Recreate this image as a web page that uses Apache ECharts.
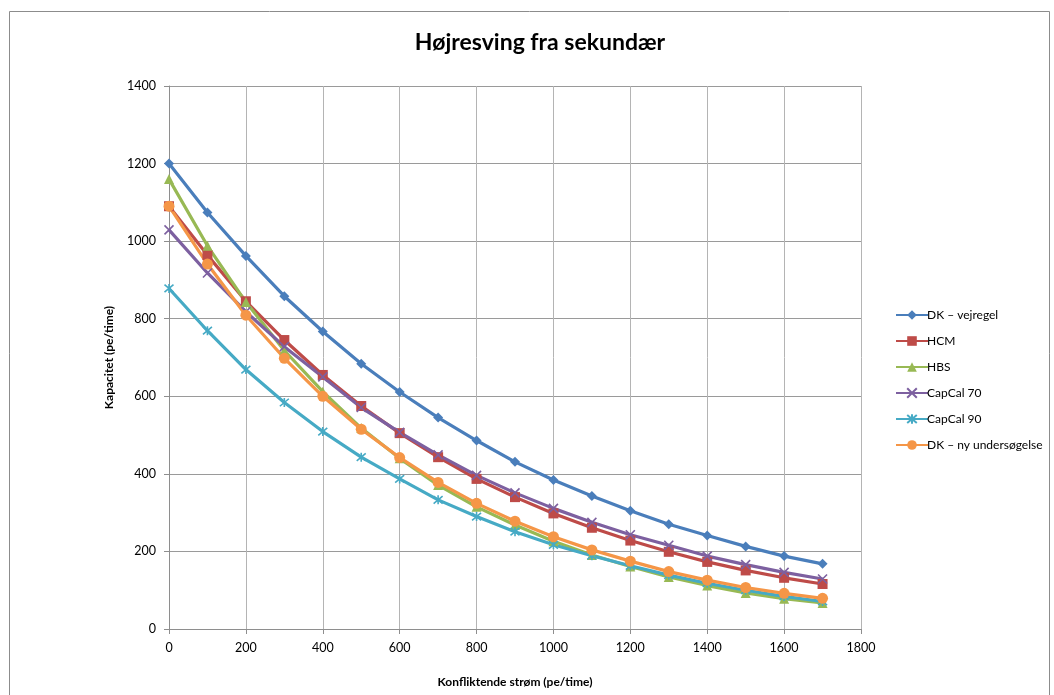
<!DOCTYPE html>
<html>
<head>
<meta charset="utf-8">
<script src="https://cdn.jsdelivr.net/npm/echarts@6/dist/echarts.min.js"></script>
<style>
  html, body { margin: 0; padding: 0; background: #fff; }
  #chart { width: 1054px; height: 695px; }
</style>
</head>
<body>
<div id="chart"></div>
<script>
// Conflicting flow (pe/time), x positions of the points
const flows = [0, 100, 200, 300, 400, 500, 600, 700, 800, 900, 1000, 1100, 1200, 1300, 1400, 1500, 1600, 1700];

// Capacity (pe/time) for each method
const dkVejregel = [1200, 1074, 962, 858, 767, 684, 611, 545, 486, 431, 384, 343, 305, 270, 241, 213, 188, 168];
const hcm        = [1090, 964, 845, 745, 655, 575, 505, 443, 387, 340, 298, 261, 228, 199, 173, 151, 132, 116];
const hbs        = [1160, 988, 843, 718, 612, 518, 440, 371, 315, 268, 226, 191, 161, 134, 112, 93, 78, 67];
const capCal70   = [1029, 918, 818, 728, 650, 571, 507, 449, 396, 351, 311, 275, 243, 216, 188, 166, 146, 129];
const capCal90   = [878, 769, 669, 584, 509, 443, 387, 333, 290, 251, 217, 189, 163, 139, 118, 100, 84, 71];
const dkNy       = [1090, 941, 809, 698, 600, 515, 442, 378, 324, 278, 238, 204, 175, 148, 126, 107, 92, 79];

const seriesNames = ['DK – vejregel', 'HCM', 'HBS', 'CapCal 70', 'CapCal 90', 'DK – ny undersøgelse'];
const xTicks = [0, 200, 400, 600, 800, 1000, 1200, 1400, 1600, 1800];
const yTicks = [0, 200, 400, 600, 800, 1000, 1200, 1400];

const FONT = 'Lato, "Open Sans", sans-serif';
const colors = ['#4A7EBB', '#BE4B48', '#98B954', '#7D60A0', '#46AAC5', '#F59647'];

const crossPath = 'path://M0,0 L10,10 M10,0 L0,10';
const starPath = 'path://M0,0 L10,10 M10,0 L0,10 M5,-1 L5,11';

function pairs(values) {
  return flows.map((f, i) => [f, values[i]]);
}

function makeSeries(name, values, color, symbol, size, stroked) {
  return {
    name: name,
    type: 'line',
    data: pairs(values),
    symbol: symbol,
    symbolSize: size,
    showAllSymbol: true,
    lineStyle: { color: color, width: 3.2 },
    itemStyle: stroked
      ? { color: color, borderColor: color, borderWidth: 1.6 }
      : { color: color },
    emphasis: { disabled: true },
    z: 2
  };
}

const chart = echarts.init(document.getElementById('chart'), null, { renderer: 'canvas' });

chart.setOption({
  animation: false,
  backgroundColor: '#ffffff',
  color: colors,
  title: {
    text: 'Højresving fra sekundær',
    left: 535,
    textAlign: 'center',
    top: 26,
    textStyle: { fontFamily: FONT, fontSize: 23, fontWeight: 'bold', color: '#000' }
  },
  graphic: [{
    type: 'rect',
    shape: { x: 9.5, y: 11.5, width: 1040, height: 700 },
    style: { fill: 'none', stroke: '#8c8c8c', lineWidth: 1 },
    silent: true
  }],
  grid: { left: 169, right: 193, top: 86, bottom: 66, containLabel: false },
  legend: {
    orient: 'vertical',
    left: 890,
    top: 304,
    itemWidth: 32,
    itemHeight: 12,
    itemGap: 14,
    textStyle: { fontFamily: FONT, fontSize: 12, color: '#000', padding: [0, 0, 0, -6] },
    data: seriesNames
  },
  xAxis: {
    type: 'value',
    min: 0,
    max: 1800,
    interval: 200,
    name: 'Konfliktende strøm (pe/time)',
    nameLocation: 'middle',
    nameGap: 47,
    nameTextStyle: { fontFamily: FONT, fontSize: 12, fontWeight: 'bold', color: '#000' },
    axisLine: { show: true, onZero: false, lineStyle: { color: '#8e8e8e', width: 1 } },
    axisTick: { show: true, inside: false, length: 5, lineStyle: { color: '#8e8e8e' } },
    axisLabel: {
      fontFamily: FONT, fontSize: 12.5, color: '#000', margin: 12,
      formatter: v => (xTicks.indexOf(v) >= 0 ? String(v) : '')
    },
    splitLine: { show: true, lineStyle: { color: '#b4b4b4', width: 1 } }
  },
  yAxis: {
    type: 'value',
    min: 0,
    max: 1400,
    interval: 200,
    name: 'Kapacitet (pe/time)',
    nameLocation: 'middle',
    nameGap: 54,
    nameRotate: 90,
    nameTextStyle: { fontFamily: FONT, fontSize: 12, fontWeight: 'bold', color: '#000' },
    axisLine: { show: true, lineStyle: { color: '#8e8e8e', width: 1 } },
    axisTick: { show: true, inside: false, length: 5, lineStyle: { color: '#8e8e8e' } },
    axisLabel: {
      fontFamily: FONT, fontSize: 12.5, color: '#000', margin: 13,
      formatter: v => (yTicks.indexOf(v) >= 0 ? String(v) : '')
    },
    splitLine: { show: true, lineStyle: { color: '#9a9a9a', width: 1 } }
  },
  series: [
    makeSeries(seriesNames[0], dkVejregel, colors[0], 'diamond', 10, false),
    makeSeries(seriesNames[1], hcm, colors[1], 'rect', 10, false),
    makeSeries(seriesNames[2], hbs, colors[2], 'triangle', 10, false),
    makeSeries(seriesNames[3], capCal70, colors[3], crossPath, 9, true),
    makeSeries(seriesNames[4], capCal90, colors[4], starPath, 9, true),
    makeSeries(seriesNames[5], dkNy, colors[5], 'circle', 11, false)
  ]
});
</script>
</body>
</html>
